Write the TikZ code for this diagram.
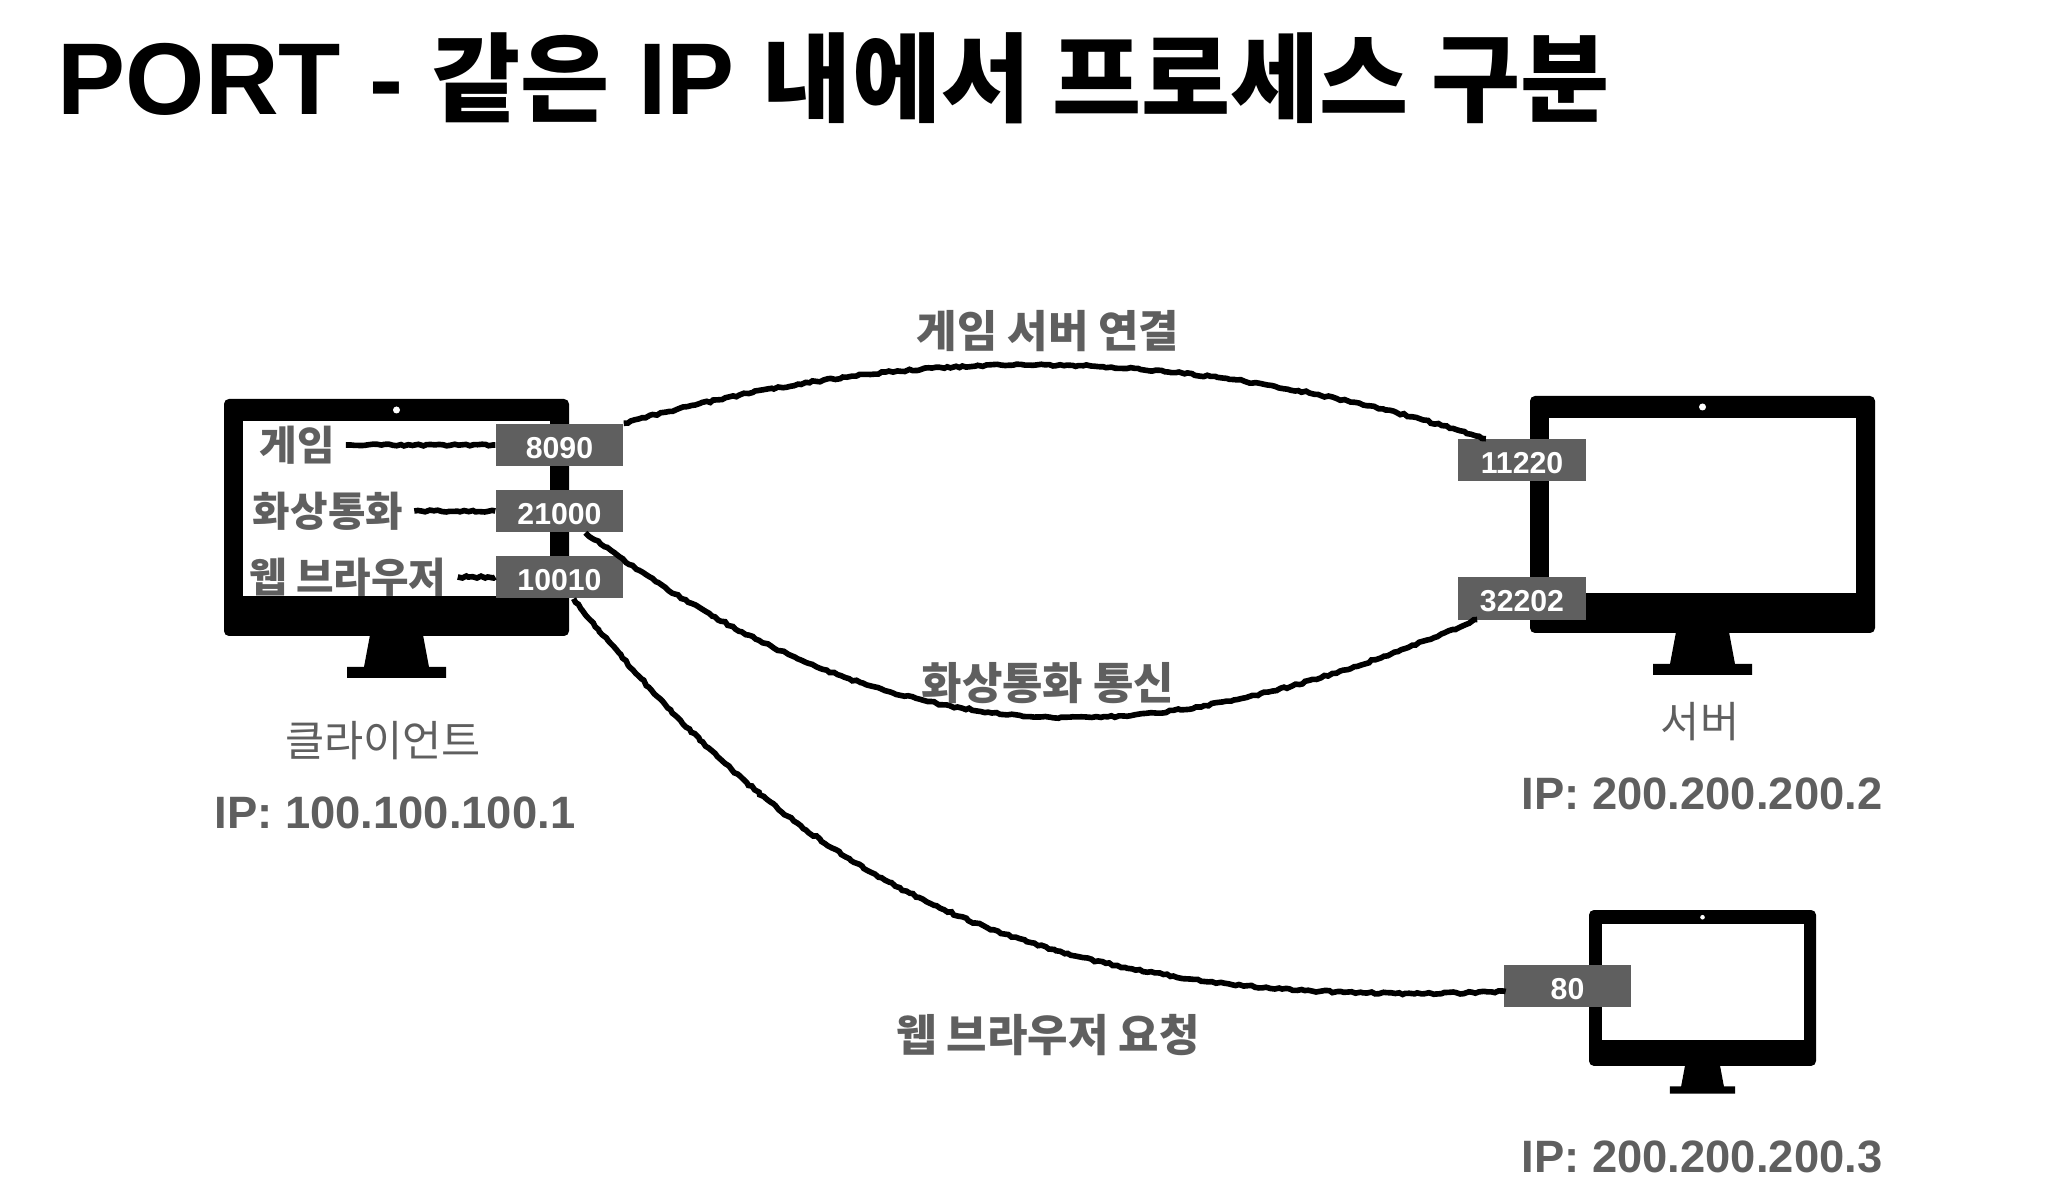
\documentclass[tikz,border=0pt]{standalone}
\usepackage{fontspec}
\setmainfont{Liberation Sans}
\newfontfamily\kor{Noto Sans CJK KR}
\newfontfamily\kortitle[Scale=0.95]{Noto Sans CJK KR}
\usetikzlibrary{decorations.pathmorphing}
\definecolor{mGray}{HTML}{5F5F5F}
\newcommand{\kr}[1]{{\kor #1}}
\newcommand{\krt}[1]{{\kortitle #1}}
\tikzset{
  portbox/.style={fill=mGray, text=white, font=\fontsize{8.6}{10}\selectfont\bfseries, minimum width=1.27cm, minimum height=0.42cm, inner sep=0pt, text height=7.6pt, text depth=0pt},
  applabel/.style={text=mGray, font=\fontsize{11.6}{13}\selectfont\bfseries, inner sep=3pt},
  linklabel/.style={text=mGray, font=\fontsize{12.5}{14}\selectfont\bfseries, inner sep=0pt},
  hostlabel/.style={text=mGray, font=\fontsize{12.1}{14}\selectfont, inner sep=0pt},
  iplabel/.style={text=mGray, font=\fontsize{12.9}{15}\selectfont\bfseries, inner sep=0pt},
  chalk/.style={black, line width=1.6pt, decorate, decoration={random steps, segment length=1.1pt, amplitude=0.3pt}},
  pics/monitor/.style={code={
    \fill[black, rounded corners=1.4pt] (0,0) rectangle (345,237);
    \fill[white] (19,22) rectangle (326,197);
    \fill[white] (172.5,11) circle (3.5);
    \fill[black] (146,236) -- (199,236) -- (205,268) -- (222,268) -- (222,279) -- (123,279) -- (123,268) -- (140,268) -- cycle;
  }}
}
\begin{document}
\begin{tikzpicture}[x=0.01cm, y=-0.01cm]
    \pgfmathsetseed{11}
    \useasboundingbox (0,0) rectangle (2070,1198);
    % title
    \node[anchor=base west, inner sep=0pt, font=\fontsize{29}{34}\selectfont\bfseries] (title) at (57,115) {PORT - \krt{같은} IP \krt{내에서 프로세스 구분}};
    % monitors
    \pic at (224,399) {monitor};
    \pic at (1530,396) {monitor};
    \pic[scale=0.658] at (1589,910) {monitor};
    % ports
    \foreach \v/\x/\y in {8090/559.5/445, 21000/559.5/511, 10010/559.5/577, 11220/1522/460, 32202/1522/598.5, 80/1567.5/986} {
      \node[portbox] (p\v) at (\x,\y) {\v};
    }
    % programs
    \node[applabel] (lgame) at (297,445) {\kr{게임}};
    \node[applabel] (lvideo) at (328,511) {\kr{화상통화}};
    \node[applabel] (lweb) at (348,577) {\kr{웹 브라우저}};
    \draw[chalk] (lgame) -- (p8090);
    \draw[chalk] (lvideo) -- (p21000);
    \draw[chalk] (lweb) -- (p10010);
    % links
    \draw[chalk] (p8090.north east) .. controls (910,343) and (1185,343) .. (p11220.150);
    \draw[chalk] (p21000.320) .. controls (895,762) and (1145,762) .. (p32202.205);
    \draw[chalk] (p10010.303) .. controls (805,890) and (1030,1010) .. (p80.185);
    \node[linklabel] (tgame) at (1048,331) {\kr{게임 서버 연결}};
    \node[linklabel] (tvideo) at (1048,683) {\kr{화상통화 통신}};
    \node[linklabel] (tweb) at (1048,1035) {\kr{웹 브라우저 요청}};
    % hosts
    \node[hostlabel] (hclient) at (383,741) {\kr{클라이언트}};
    \node[iplabel] (ipclient) at (395,813) {IP: 100.100.100.1};
    \node[hostlabel] (hserver) at (1700,722) {\kr{서버}};
    \node[iplabel] (ipserver) at (1702,794) {IP: 200.200.200.2};
    \node[iplabel] (ipother) at (1702,1157) {IP: 200.200.200.3};
  \end{tikzpicture}
\end{document}
